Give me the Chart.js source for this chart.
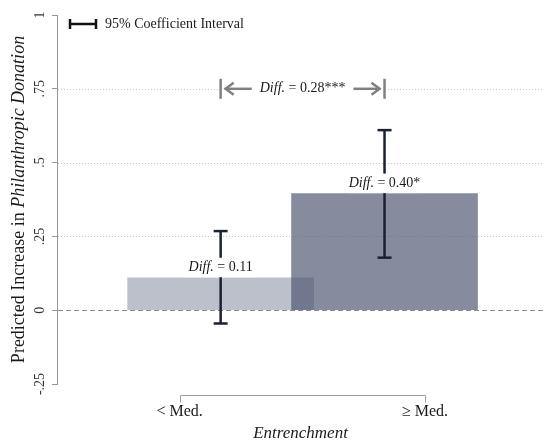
<!DOCTYPE html>
<html>
<head>
<meta charset="utf-8">
<script src="https://cdn.jsdelivr.net/npm/chart.js@4/dist/chart.umd.min.js"></script>
<style>
  html, body { margin: 0; padding: 0; background: #fff; }
  #wrap { width: 544px; height: 444px; }
</style>
</head>
<body>
<div id="wrap"><canvas id="chart"></canvas></div>
<script>
const xTicks = [0, 1];
const xLabels = ["< Med.", "\u2265 Med."];
const barX = [0.167, 0.835];
const barValues = [0.11, 0.395];
const ciLower = [-0.045, 0.178];
const ciUpper = [0.268, 0.61];
const diffLabels = ["0.11", "0.40*"];
const gapLabel = "0.28***";
const gapY = 0.75;
const yTicks = [-0.25, 0, 0.25, 0.5, 0.75, 1];
const yTickLabels = ["-.25", "0", ".25", ".5", ".75", "1"];

const serif = "'Liberation Serif', 'Times New Roman', serif";

function line(ctx, x1, y1, x2, y2) {
  ctx.beginPath();
  ctx.moveTo(x1, y1);
  ctx.lineTo(x2, y2);
  ctx.stroke();
}

// "Diff." in italics followed by normal text, centred on cx
function diffText(ctx, cx, cy, rest, size) {
  ctx.font = "italic " + size + "px " + serif;
  const w1 = ctx.measureText("Diff.").width;
  ctx.font = size + "px " + serif;
  const w2 = ctx.measureText(" = " + rest).width;
  const left = cx - (w1 + w2) / 2;
  ctx.fillStyle = "#1a1a1a";
  ctx.textAlign = "left";
  ctx.textBaseline = "middle";
  ctx.font = "italic " + size + "px " + serif;
  ctx.fillText("Diff.", left, cy);
  ctx.font = size + "px " + serif;
  ctx.fillText(" = " + rest, left + w1, cy);
  return w1 + w2;
}

function measureDiff(ctx, rest, size) {
  ctx.font = "italic " + size + "px " + serif;
  const w1 = ctx.measureText("Diff.").width;
  ctx.font = size + "px " + serif;
  return w1 + ctx.measureText(" = " + rest).width;
}

const overlay = {
  id: "overlay",
  beforeDatasetsDraw(chart) {
    const { ctx, chartArea: a, scales: { y } } = chart;
    ctx.save();
    ctx.strokeStyle = "#c9c9c9";
    ctx.lineWidth = 1;
    ctx.setLineDash([1, 2]);
    yTicks.forEach((v) => {
      if (v <= 0 || v >= 1) return;
      const py = Math.round(y.getPixelForValue(v)) + 0.5;
      line(ctx, a.left + 1, py, a.right, py);
    });
    ctx.restore();
  },
  afterDatasetsDraw(chart) {
    const { ctx, chartArea: a, scales: { x, y } } = chart;
    ctx.save();

    // zero line
    const y0 = Math.round(y.getPixelForValue(0)) + 0.5;
    ctx.strokeStyle = "#8a8a8a";
    ctx.lineWidth = 1;
    ctx.setLineDash([5, 3]);
    line(ctx, a.left + 1, y0, a.right, y0);
    ctx.setLineDash([]);

    // confidence intervals
    ctx.strokeStyle = "#1b2130";
    ctx.lineWidth = 2.5;
    barX.forEach((bx, i) => {
      const px = x.getPixelForValue(bx);
      const lo = y.getPixelForValue(ciLower[i]);
      const hi = y.getPixelForValue(ciUpper[i]);
      line(ctx, px, lo, px, hi);
      line(ctx, px - 7, lo, px + 7, lo);
      line(ctx, px - 7, hi, px + 7, hi);
    });

    // difference labels above the bars
    barX.forEach((bx, i) => {
      const px = x.getPixelForValue(bx);
      const top = y.getPixelForValue(barValues[i]);
      const w = measureDiff(ctx, diffLabels[i], 14);
      ctx.fillStyle = "#fff";
      ctx.fillRect(px - w / 2 - 2, top - 20, w + 4, 19.5);
      diffText(ctx, px, top - 10, diffLabels[i], 14);
    });

    // gap arrow between the two groups
    const gy = y.getPixelForValue(gapY);
    const x1 = x.getPixelForValue(barX[0]);
    const x2 = x.getPixelForValue(barX[1]);
    const mid = (x1 + x2) / 2;
    ctx.fillStyle = "#fff";
    ctx.fillRect(x1, gy - 10, x2 - x1, 20);
    const tw = measureDiff(ctx, gapLabel, 14);
    ctx.strokeStyle = "#808080";
    ctx.lineWidth = 2.5;
    line(ctx, x1, gy - 10, x1, gy + 10);
    line(ctx, x2, gy - 10, x2, gy + 10);
    line(ctx, x1 + 4, gy, mid - tw / 2 - 8, gy);
    line(ctx, mid + tw / 2 + 8, gy, x2 - 4, gy);
    ctx.beginPath();
    ctx.moveTo(x1 + 13, gy - 6);
    ctx.lineTo(x1 + 5, gy);
    ctx.lineTo(x1 + 13, gy + 6);
    ctx.moveTo(x2 - 13, gy - 6);
    ctx.lineTo(x2 - 5, gy);
    ctx.lineTo(x2 - 13, gy + 6);
    ctx.stroke();
    diffText(ctx, mid, gy, gapLabel, 14);

    // legend
    const lx = a.left + 13;
    const ly = a.top + 9;
    ctx.strokeStyle = "#111";
    ctx.lineWidth = 2.5;
    line(ctx, lx, ly, lx + 26, ly);
    line(ctx, lx, ly - 5, lx, ly + 5);
    line(ctx, lx + 26, ly - 5, lx + 26, ly + 5);
    ctx.fillStyle = "#1a1a1a";
    ctx.font = "14px " + serif;
    ctx.textAlign = "left";
    ctx.textBaseline = "middle";
    ctx.fillText("95% Coefficient Interval", lx + 35, ly);

    // x axis bracket
    const by = Math.round(a.bottom + 11) + 0.5;
    const bx1 = Math.round(x.getPixelForValue(xTicks[0])) + 0.5;
    const bx2 = Math.round(x.getPixelForValue(xTicks[xTicks.length - 1])) + 0.5;
    ctx.strokeStyle = "#a0a0a0";
    ctx.lineWidth = 1;
    ctx.beginPath();
    ctx.moveTo(bx1, by + 7);
    ctx.lineTo(bx1, by);
    ctx.lineTo(bx2, by);
    ctx.lineTo(bx2, by + 7);
    ctx.stroke();

    // y axis title, mixed roman and italic
    const size = 18;
    ctx.font = size + "px " + serif;
    const p1 = "Predicted Increase in ";
    const w1 = ctx.measureText(p1).width;
    ctx.font = "italic " + size + "px " + serif;
    const p2 = "Philanthropic Donation";
    const w2 = ctx.measureText(p2).width;
    ctx.translate(19, (a.top + a.bottom) / 2);
    ctx.rotate(-Math.PI / 2);
    ctx.fillStyle = "#1a1a1a";
    ctx.font = size + "px " + serif;
    ctx.fillText(p1, -(w1 + w2) / 2, 0);
    ctx.font = "italic " + size + "px " + serif;
    ctx.fillText(p2, -(w1 + w2) / 2 + w1, 0);

    ctx.restore();
  },
};

new Chart(document.getElementById("chart"), {
  type: "bar",
  data: {
    datasets: [
      {
        data: barX.map((bx, i) => ({ x: bx, y: barValues[i] })),
        backgroundColor: ["rgba(80, 89, 115, 0.38)", "rgba(80, 89, 115, 0.69)"],
        borderWidth: 0,
        barThickness: 186,
      },
    ],
  },
  options: {
    responsive: true,
    maintainAspectRatio: false,
    animation: false,
    layout: { padding: { top: 15, left: 0, right: 0, bottom: 0 } },
    plugins: {
      legend: { display: false },
      tooltip: { enabled: false },
    },
    scales: {
      x: {
        type: "linear",
        min: -0.5,
        max: 1.485,
        offset: false,
        afterBuildTicks: (scale) => {
          scale.ticks = xTicks.map((v) => ({ value: v }));
        },
        afterFit: (scale) => {
          scale.height = 60;
        },
        grid: { display: false, drawTicks: false },
        border: { display: false },
        ticks: {
          padding: 18,
          maxRotation: 0,
          autoSkip: false,
          color: "#1a1a1a",
          font: { family: serif, size: 16 },
          callback: (value, index) => xLabels[index],
        },
        title: {
          display: true,
          text: "Entrenchment",
          color: "#1a1a1a",
          padding: { top: 0, bottom: 0 },
          font: { family: serif, size: 17, style: "italic" },
        },
      },
      y: {
        min: -0.25,
        max: 1,
        afterBuildTicks: (scale) => {
          scale.ticks = yTicks.map((v) => ({ value: v }));
        },
        afterFit: (scale) => {
          scale.width = 57;
        },
        grid: {
          drawOnChartArea: false,
          drawTicks: true,
          tickLength: 5,
          tickColor: "#999",
        },
        border: { display: true, color: "#999", width: 1 },
        ticks: {
          padding: 1,
          minRotation: 90,
          maxRotation: 90,
          crossAlign: "center",
          color: "#333",
          font: { family: serif, size: 14 },
          callback: (value, index) => yTickLabels[index],
        },
      },
    },
  },
  plugins: [overlay],
});
</script>
</body>
</html>
